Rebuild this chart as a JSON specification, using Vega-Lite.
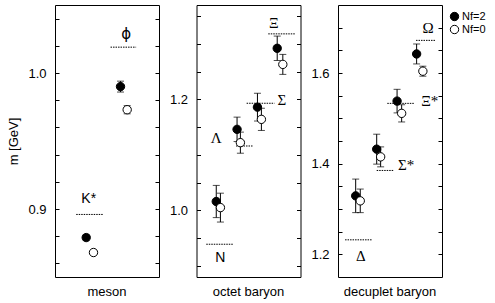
{
  "$schema": "https://vega.github.io/schema/vega-lite/v6.json",
  "padding": {"left": 7, "top": 4, "right": 0, "bottom": 0},
  "background": "white",
  "spacing": 37.5,
  "bounds": "flush",
  "config": {
    "font": "Liberation Sans",
    "view": {"stroke": "black", "strokeWidth": 1},
    "axis": {"grid": false, "domain": false, "labelFontSize": 13, "labelColor": "black", "titleFontSize": 13, "titleColor": "black", "titleFontWeight": "normal", "tickColor": "black", "tickWidth": 1, "labelFont": "Liberation Sans", "titleFont": "Liberation Sans"}
  },
  "datasets": {
    "pts": [
      {"panel": "meson", "particle": "K*", "nf": "Nf=2", "x": 1.5, "m": 0.879, "lo": 0.877, "hi": 0.881},
      {"panel": "meson", "particle": "K*", "nf": "Nf=0", "x": 1.85, "m": 0.868, "lo": 0.866, "hi": 0.870},
      {"panel": "meson", "particle": "ϕ", "nf": "Nf=2", "x": 3.15, "m": 0.990, "lo": 0.986, "hi": 0.994},
      {"panel": "meson", "particle": "ϕ", "nf": "Nf=0", "x": 3.47, "m": 0.973, "lo": 0.970, "hi": 0.976},
      {"panel": "octet", "particle": "N", "nf": "Nf=2", "x": 0.95, "m": 1.016, "lo": 0.987, "hi": 1.045},
      {"panel": "octet", "particle": "N", "nf": "Nf=0", "x": 1.15, "m": 1.005, "lo": 0.979, "hi": 1.031},
      {"panel": "octet", "particle": "Λ", "nf": "Nf=2", "x": 1.95, "m": 1.146, "lo": 1.124, "hi": 1.168},
      {"panel": "octet", "particle": "Λ", "nf": "Nf=0", "x": 2.11, "m": 1.122, "lo": 1.103, "hi": 1.141},
      {"panel": "octet", "particle": "Σ", "nf": "Nf=2", "x": 2.93, "m": 1.186, "lo": 1.161, "hi": 1.211},
      {"panel": "octet", "particle": "Σ", "nf": "Nf=0", "x": 3.12, "m": 1.164, "lo": 1.144, "hi": 1.184},
      {"panel": "octet", "particle": "Ξ", "nf": "Nf=2", "x": 3.88, "m": 1.292, "lo": 1.270, "hi": 1.314},
      {"panel": "octet", "particle": "Ξ", "nf": "Nf=0", "x": 4.15, "m": 1.263, "lo": 1.245, "hi": 1.281},
      {"panel": "decuplet", "particle": "Δ", "nf": "Nf=2", "x": 0.85, "m": 1.329, "lo": 1.292, "hi": 1.366},
      {"panel": "decuplet", "particle": "Δ", "nf": "Nf=0", "x": 1.07, "m": 1.318, "lo": 1.292, "hi": 1.344},
      {"panel": "decuplet", "particle": "Σ*", "nf": "Nf=2", "x": 1.86, "m": 1.432, "lo": 1.399, "hi": 1.465},
      {"panel": "decuplet", "particle": "Σ*", "nf": "Nf=0", "x": 2.05, "m": 1.415, "lo": 1.393, "hi": 1.437},
      {"panel": "decuplet", "particle": "Ξ*", "nf": "Nf=2", "x": 2.84, "m": 1.538, "lo": 1.512, "hi": 1.564},
      {"panel": "decuplet", "particle": "Ξ*", "nf": "Nf=0", "x": 3.06, "m": 1.511, "lo": 1.492, "hi": 1.530},
      {"panel": "decuplet", "particle": "Ω", "nf": "Nf=2", "x": 3.78, "m": 1.642, "lo": 1.620, "hi": 1.664},
      {"panel": "decuplet", "particle": "Ω", "nf": "Nf=0", "x": 4.08, "m": 1.604, "lo": 1.593, "hi": 1.615}
    ],
    "exp": [
      {"panel": "meson", "particle": "K*", "x1": 1.02, "x2": 2.3, "m": 0.896, "lx": 1.62, "ly": 0.907},
      {"panel": "meson", "particle": "ϕ", "x1": 2.67, "x2": 3.9, "m": 1.019, "lx": 3.42, "ly": 1.029},
      {"panel": "octet", "particle": "N", "x1": 0.47, "x2": 1.75, "m": 0.939, "lx": 1.15, "ly": 0.9135},
      {"panel": "octet", "particle": "Λ", "x1": 1.9, "x2": 2.74, "m": 1.116, "lx": 0.95, "ly": 1.130},
      {"panel": "octet", "particle": "Σ", "x1": 2.41, "x2": 3.75, "m": 1.193, "lx": 4.1, "ly": 1.198},
      {"panel": "octet", "particle": "Ξ", "x1": 3.45, "x2": 4.73, "m": 1.318, "lx": 3.72, "ly": 1.337},
      {"panel": "decuplet", "particle": "Δ", "x1": 0.34, "x2": 1.63, "m": 1.232, "lx": 1.1, "ly": 1.196},
      {"panel": "decuplet", "particle": "Σ*", "x1": 1.86, "x2": 2.69, "m": 1.385, "lx": 3.28, "ly": 1.396},
      {"panel": "decuplet", "particle": "Ξ*", "x1": 2.37, "x2": 3.65, "m": 1.533, "lx": 4.41, "ly": 1.538},
      {"panel": "decuplet", "particle": "Ω", "x1": 3.75, "x2": 4.71, "m": 1.672, "lx": 4.33, "ly": 1.70}
    ]
  },
  "hconcat": [
    {
      "width": 104, "height": 272,
      "title": {"text": "meson", "orient": "bottom", "fontSize": 13, "fontWeight": "normal", "color": "black", "font": "Liberation Sans", "offset": 9, "anchor": "middle"},
      "layer": [
        {
          "data": {"name": "exp"},
          "transform": [{"filter": "datum.panel=='meson'"}],
          "mark": {"type": "rule", "color": "black", "strokeWidth": 1, "strokeDash": [1.5, 1]},
          "encoding": {
            "x": {"field": "x1", "type": "quantitative", "scale": {"domain": [0, 5], "nice": false, "zero": false}, "axis": null},
            "x2": {"field": "x2"},
            "y": {"field": "m", "type": "quantitative", "scale": {"domain": [0.85, 1.05], "nice": false, "zero": false}, "axis": {"orient": "right", "values": [0.86, 0.88, 0.9, 0.92, 0.94, 0.96, 0.98, 1.0, 1.02, 1.04], "labels": false, "tickSize": 4, "offset": -4, "title": null}}
          }
        },
        {
          "data": {"name": "pts"},
          "transform": [{"filter": "datum.panel=='meson'"}],
          "mark": {"type": "rule", "color": "black", "strokeWidth": 1},
          "encoding": {
            "x": {"field": "x", "type": "quantitative", "axis": null},
            "y": {"field": "lo", "type": "quantitative", "axis": null},
            "y2": {"field": "hi"}
          }
        },
        {
          "data": {"name": "pts"},
          "transform": [{"filter": "datum.panel=='meson'"}],
          "mark": {"type": "tick", "orient": "horizontal", "color": "black", "size": 7, "thickness": 1},
          "encoding": {
            "x": {"field": "x", "type": "quantitative", "axis": null},
            "y": {"field": "lo", "type": "quantitative", "axis": null}
          }
        },
        {
          "data": {"name": "pts"},
          "transform": [{"filter": "datum.panel=='meson'"}],
          "mark": {"type": "tick", "orient": "horizontal", "color": "black", "size": 7, "thickness": 1},
          "encoding": {
            "x": {"field": "x", "type": "quantitative", "axis": null},
            "y": {"field": "hi", "type": "quantitative", "axis": null}
          }
        },
        {
          "data": {"name": "pts"},
          "transform": [{"filter": "datum.panel=='meson'"}],
          "mark": {"type": "point", "shape": "circle", "filled": true, "stroke": "black", "strokeWidth": 1, "size": 70, "opacity": 1},
          "encoding": {
            "x": {"field": "x", "type": "quantitative", "axis": null},
            "y": {"field": "m", "type": "quantitative", "axis": {"orient": "left", "values": [0.86, 0.88, 0.9, 0.92, 0.94, 0.96, 0.98, 1.0, 1.02, 1.04], "labelExpr": "datum.value==0.9||datum.value==1?format(datum.value,'.1f'):''", "tickSize": 4, "offset": -4, "labelPadding": 9, "title": "m [GeV]", "titlePadding": 7}},
            "fill": {"field": "nf", "type": "nominal", "scale": {"domain": ["Nf=2", "Nf=0"], "range": ["black", "white"]}, "legend": {"title": null, "orient": "none", "legendX": 394, "legendY": 6, "symbolType": "circle", "symbolSize": 70, "symbolStrokeColor": "black", "symbolStrokeWidth": 1, "labelFontSize": 11, "labelOffset": 2, "rowPadding": 0, "padding": 0, "labelColor": "black"}}
          }
        },
        {
          "data": {"name": "exp"},
          "transform": [{"filter": "datum.panel=='meson' && datum.particle=='K*'"}],
          "mark": {"type": "text", "align": "center", "baseline": "middle", "fontSize": 14, "color": "black", "font": "Liberation Sans"},
          "encoding": {
            "x": {"field": "lx", "type": "quantitative", "axis": null},
            "y": {"field": "ly", "type": "quantitative", "axis": null},
            "text": {"field": "particle"}
          }
        },
        {
          "data": {"name": "exp"},
          "transform": [{"filter": "datum.panel=='meson' && datum.particle!='K*'"}],
          "mark": {"type": "text", "align": "center", "baseline": "middle", "fontSize": 15, "color": "black", "font": "DejaVu Sans"},
          "encoding": {
            "x": {"field": "lx", "type": "quantitative", "axis": null},
            "y": {"field": "ly", "type": "quantitative", "axis": null},
            "text": {"field": "particle"}
          }
        }
      ],
      "resolve": {"axis": {"y": "independent"}}
    },
    {
      "width": 104, "height": 272,
      "title": {"text": "octet baryon", "orient": "bottom", "fontSize": 13, "fontWeight": "normal", "color": "black", "font": "Liberation Sans", "offset": 9, "anchor": "middle"},
      "layer": [
        {
          "data": {"name": "exp"},
          "transform": [{"filter": "datum.panel=='octet'"}],
          "mark": {"type": "rule", "color": "black", "strokeWidth": 1, "strokeDash": [1.5, 1]},
          "encoding": {
            "x": {"field": "x1", "type": "quantitative", "scale": {"domain": [0, 5], "nice": false, "zero": false}, "axis": null},
            "x2": {"field": "x2"},
            "y": {"field": "m", "type": "quantitative", "scale": {"domain": [0.88, 1.37], "nice": false, "zero": false}, "axis": {"orient": "right", "values": [0.9, 0.95, 1.0, 1.05, 1.1, 1.15, 1.2, 1.25, 1.3, 1.35], "labels": false, "tickSize": 4, "offset": -4, "title": null}}
          }
        },
        {
          "data": {"name": "pts"},
          "transform": [{"filter": "datum.panel=='octet'"}],
          "mark": {"type": "rule", "color": "black", "strokeWidth": 1},
          "encoding": {
            "x": {"field": "x", "type": "quantitative", "axis": null},
            "y": {"field": "lo", "type": "quantitative", "axis": null},
            "y2": {"field": "hi"}
          }
        },
        {
          "data": {"name": "pts"},
          "transform": [{"filter": "datum.panel=='octet'"}],
          "mark": {"type": "tick", "orient": "horizontal", "color": "black", "size": 7, "thickness": 1},
          "encoding": {
            "x": {"field": "x", "type": "quantitative", "axis": null},
            "y": {"field": "lo", "type": "quantitative", "axis": null}
          }
        },
        {
          "data": {"name": "pts"},
          "transform": [{"filter": "datum.panel=='octet'"}],
          "mark": {"type": "tick", "orient": "horizontal", "color": "black", "size": 7, "thickness": 1},
          "encoding": {
            "x": {"field": "x", "type": "quantitative", "axis": null},
            "y": {"field": "hi", "type": "quantitative", "axis": null}
          }
        },
        {
          "data": {"name": "pts"},
          "transform": [{"filter": "datum.panel=='octet'"}],
          "mark": {"type": "point", "shape": "circle", "filled": true, "stroke": "black", "strokeWidth": 1, "size": 70, "opacity": 1},
          "encoding": {
            "x": {"field": "x", "type": "quantitative", "axis": null},
            "y": {"field": "m", "type": "quantitative", "axis": {"orient": "left", "values": [0.9, 0.95, 1.0, 1.05, 1.1, 1.15, 1.2, 1.25, 1.3, 1.35], "labelExpr": "datum.value==1||datum.value==1.2?format(datum.value,'.1f'):''", "tickSize": 4, "offset": -4, "labelPadding": 9, "title": null}},
            "fill": {"field": "nf", "type": "nominal", "scale": {"domain": ["Nf=2", "Nf=0"], "range": ["black", "white"]}}
          }
        },
        {
          "data": {"name": "exp"},
          "transform": [{"filter": "datum.panel=='octet' && datum.particle=='N'"}],
          "mark": {"type": "text", "align": "center", "baseline": "middle", "fontSize": 14, "color": "black", "font": "Liberation Sans"},
          "encoding": {
            "x": {"field": "lx", "type": "quantitative", "axis": null},
            "y": {"field": "ly", "type": "quantitative", "axis": null},
            "text": {"field": "particle"}
          }
        },
        {
          "data": {"name": "exp"},
          "transform": [{"filter": "datum.panel=='octet' && datum.particle!='N'"}],
          "mark": {"type": "text", "align": "center", "baseline": "middle", "fontSize": 15, "color": "black", "font": "Liberation Serif"},
          "encoding": {
            "x": {"field": "lx", "type": "quantitative", "axis": null},
            "y": {"field": "ly", "type": "quantitative", "axis": null},
            "text": {"field": "particle"}
          }
        }
      ],
      "resolve": {"axis": {"y": "independent"}}
    },
    {
      "width": 104, "height": 272,
      "title": {"text": "decuplet baryon", "orient": "bottom", "fontSize": 13, "fontWeight": "normal", "color": "black", "font": "Liberation Sans", "offset": 9, "anchor": "middle"},
      "layer": [
        {
          "data": {"name": "exp"},
          "transform": [{"filter": "datum.panel=='decuplet'"}],
          "mark": {"type": "rule", "color": "black", "strokeWidth": 1, "strokeDash": [1.5, 1]},
          "encoding": {
            "x": {"field": "x1", "type": "quantitative", "scale": {"domain": [0, 5], "nice": false, "zero": false}, "axis": null},
            "x2": {"field": "x2"},
            "y": {"field": "m", "type": "quantitative", "scale": {"domain": [1.15, 1.75], "nice": false, "zero": false}, "axis": {"orient": "right", "values": [1.2, 1.25, 1.3, 1.35, 1.4, 1.45, 1.5, 1.55, 1.6, 1.65, 1.7], "labels": false, "tickSize": 4, "offset": -4, "title": null}}
          }
        },
        {
          "data": {"name": "pts"},
          "transform": [{"filter": "datum.panel=='decuplet'"}],
          "mark": {"type": "rule", "color": "black", "strokeWidth": 1},
          "encoding": {
            "x": {"field": "x", "type": "quantitative", "axis": null},
            "y": {"field": "lo", "type": "quantitative", "axis": null},
            "y2": {"field": "hi"}
          }
        },
        {
          "data": {"name": "pts"},
          "transform": [{"filter": "datum.panel=='decuplet'"}],
          "mark": {"type": "tick", "orient": "horizontal", "color": "black", "size": 7, "thickness": 1},
          "encoding": {
            "x": {"field": "x", "type": "quantitative", "axis": null},
            "y": {"field": "lo", "type": "quantitative", "axis": null}
          }
        },
        {
          "data": {"name": "pts"},
          "transform": [{"filter": "datum.panel=='decuplet'"}],
          "mark": {"type": "tick", "orient": "horizontal", "color": "black", "size": 7, "thickness": 1},
          "encoding": {
            "x": {"field": "x", "type": "quantitative", "axis": null},
            "y": {"field": "hi", "type": "quantitative", "axis": null}
          }
        },
        {
          "data": {"name": "pts"},
          "transform": [{"filter": "datum.panel=='decuplet'"}],
          "mark": {"type": "point", "shape": "circle", "filled": true, "stroke": "black", "strokeWidth": 1, "size": 70, "opacity": 1},
          "encoding": {
            "x": {"field": "x", "type": "quantitative", "axis": null},
            "y": {"field": "m", "type": "quantitative", "axis": {"orient": "left", "values": [1.2, 1.25, 1.3, 1.35, 1.4, 1.45, 1.5, 1.55, 1.6, 1.65, 1.7], "labelExpr": "datum.value==1.2||datum.value==1.4||datum.value==1.6?format(datum.value,'.1f'):''", "tickSize": 4, "offset": -4, "labelPadding": 9, "title": null}},
            "fill": {"field": "nf", "type": "nominal", "scale": {"domain": ["Nf=2", "Nf=0"], "range": ["black", "white"]}}
          }
        },
        {
          "data": {"name": "exp"},
          "transform": [{"filter": "datum.panel=='decuplet'"}],
          "mark": {"type": "text", "align": "center", "baseline": "middle", "fontSize": 15, "color": "black", "font": "Liberation Serif"},
          "encoding": {
            "x": {"field": "lx", "type": "quantitative", "axis": null},
            "y": {"field": "ly", "type": "quantitative", "axis": null},
            "text": {"field": "particle"}
          }
        }
      ],
      "resolve": {"axis": {"y": "independent"}}
    }
  ]
}
